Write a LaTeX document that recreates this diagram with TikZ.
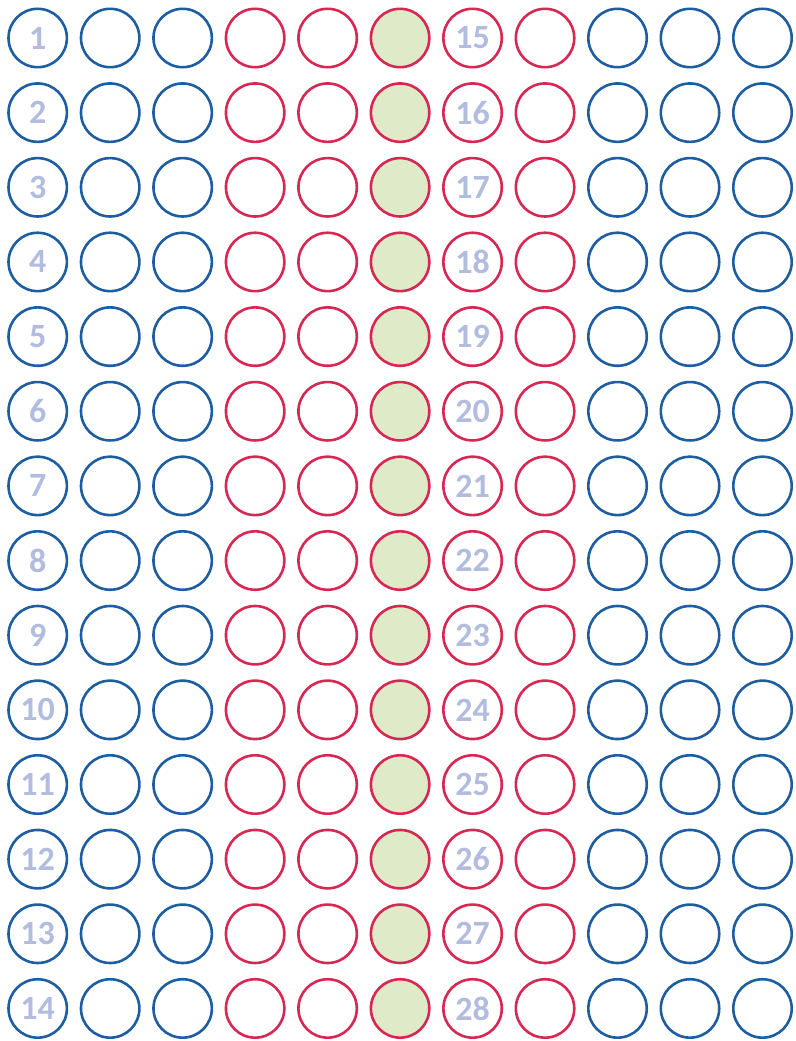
\documentclass[tikz,border=0pt]{standalone}
\usepackage{fontspec}
\setsansfont{Carlito}
\definecolor{ringblue}{RGB}{30,94,160}
\definecolor{ringred}{RGB}{214,40,82}
\definecolor{seatgreen}{RGB}{222,234,200}
\definecolor{numtext}{RGB}{178,188,222}

\begin{document}
\begin{tikzpicture}[x=1pt,y=-1pt,
  ring/.style={circle,draw,line width=2.6pt,minimum size=58.4pt,inner sep=0pt,
    font=\sffamily\bfseries\fontsize{34}{34}\selectfont,text=numtext},
  bluering/.style={ring,draw=ringblue},
  redring/.style={ring,draw=ringred},
  greenring/.style={redring,fill=seatgreen}]

\useasboundingbox (0,0) rectangle (795,1041);

% rows of seats
\foreach \r in {1,...,14}{
  \pgfmathsetmacro\yy{38+(\r-1)*74.65}
  \pgfmathtruncatemacro\rr{\r+14}
  % numbered seats
  \node[bluering] (s\r-1) at (37.7,\yy) {\r};
  \node[redring]  (s\r-7) at ({37.7+6*72.48},\yy) {\rr};
  % plain seats
  \foreach \c/\kind in {2/bluering,3/bluering,4/redring,5/redring,6/greenring,
                        8/redring,9/bluering,10/bluering,11/bluering}
    \node[\kind] (s\r-\c) at ({37.7+(\c-1)*72.48},\yy) {};
}

\end{tikzpicture}
\end{document}
